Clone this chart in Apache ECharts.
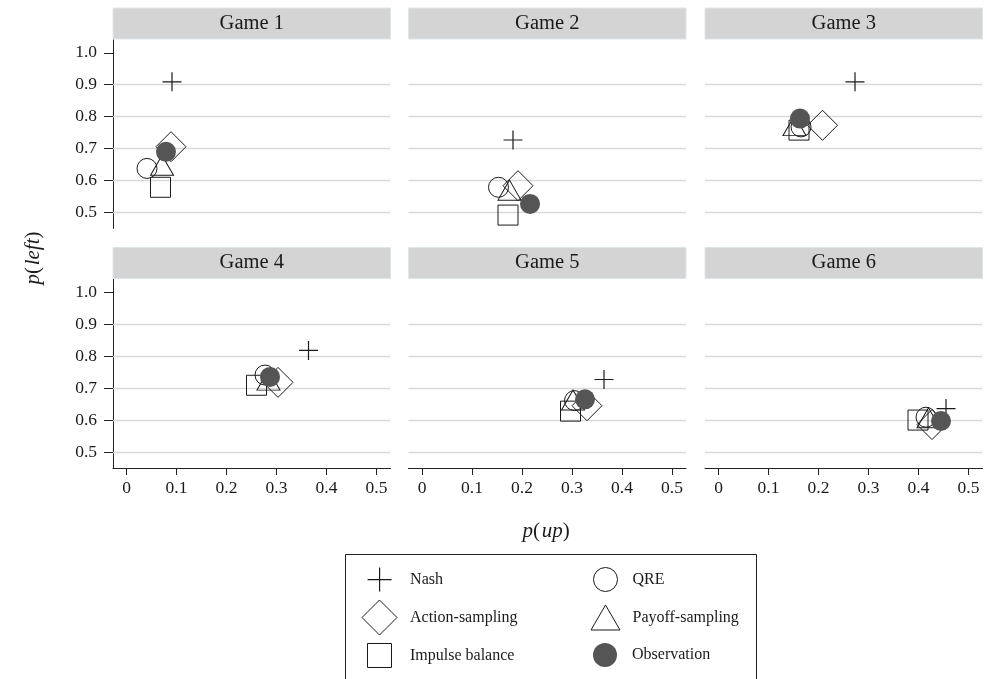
<!DOCTYPE html>
<html>
<head>
<meta charset="utf-8">
<script src="https://cdn.jsdelivr.net/npm/echarts@6/dist/echarts.min.js"></script>
<style>
  html, body { margin: 0; padding: 0; background: #fff; }
  #chart { width: 987px; height: 679px; }
</style>
</head>
<body>
<div id="chart"></div>
<script>
// Six games, each point is (p(up), p(left)) for one model or the observed play.
const games = ['Game 1', 'Game 2', 'Game 3', 'Game 4', 'Game 5', 'Game 6'];

const nashUp   = [0.091, 0.182, 0.273, 0.364, 0.364, 0.455];
const nashLeft = [0.909, 0.727, 0.909, 0.818, 0.727, 0.636];

const qreUp   = [0.041, 0.153, 0.165, 0.277, 0.305, 0.415];
const qreLeft = [0.638, 0.579, 0.768, 0.741, 0.661, 0.609];

const actionUp   = [0.089, 0.192, 0.208, 0.303, 0.330, 0.427];
const actionLeft = [0.706, 0.584, 0.773, 0.718, 0.645, 0.586];

const payoffUp   = [0.071, 0.175, 0.152, 0.284, 0.302, 0.420];
const payoffLeft = [0.648, 0.570, 0.772, 0.725, 0.663, 0.607];

const impulseUp   = [0.068, 0.172, 0.161, 0.260, 0.297, 0.399];
const impulseLeft = [0.579, 0.492, 0.758, 0.709, 0.628, 0.600];

const obsUp   = [0.079, 0.216, 0.163, 0.287, 0.326, 0.445];
const obsLeft = [0.690, 0.527, 0.794, 0.735, 0.665, 0.597];

// Tick values and horizontal reference lines
const xTicks = [0, 0.1, 0.2, 0.3, 0.4, 0.5];
const yTicks = [0.5, 0.6, 0.7, 0.8, 0.9, 1.0];
const gridLevels = [0.5, 0.6, 0.7, 0.8, 0.9];

const FONT = 'Liberation Serif';
const INK = '#1a1a1a';
const PLUS = 'path://M0,10L20,10M10,0L10,20';

const models = [
  { name: 'Nash', up: nashUp, left: nashLeft, symbol: PLUS, size: 19,
    legendIcon: 'path://M0,12L24,12M12,0L12,24', legendSize: [24, 24],
    fill: 'rgba(0,0,0,0)', stroke: INK, lw: 1.2, col: 0, row: 0 },
  { name: 'QRE', up: qreUp, left: qreLeft, symbol: 'circle', size: 20,
    legendIcon: 'circle', legendSize: [24, 24],
    fill: 'rgba(0,0,0,0)', stroke: INK, lw: 1, col: 1, row: 0 },
  { name: 'Action-sampling', up: actionUp, left: actionLeft, symbol: 'diamond', size: 30,
    legendIcon: 'diamond', legendSize: [35, 35],
    fill: 'rgba(0,0,0,0)', stroke: INK, lw: 1, col: 0, row: 1 },
  { name: 'Payoff-sampling', up: payoffUp, left: payoffLeft, symbol: 'triangle', size: [23, 20],
    legendIcon: 'triangle', legendSize: [29, 25],
    fill: 'rgba(0,0,0,0)', stroke: INK, lw: 1, col: 1, row: 1 },
  { name: 'Impulse balance', up: impulseUp, left: impulseLeft, symbol: 'rect', size: 20,
    legendIcon: 'rect', legendSize: [24, 24],
    fill: 'rgba(0,0,0,0)', stroke: INK, lw: 1, col: 0, row: 2 },
  { name: 'Observation', up: obsUp, left: obsLeft, symbol: 'circle', size: 20,
    legendIcon: 'circle', legendSize: [24, 24],
    fill: '#555555', stroke: '#555555', lw: 0, col: 1, row: 2 }
];

// Panel layout (pixels)
const colLeft = [113, 408.5, 705];
const panelW = 277.5;
const rowTop = [40, 279.5];
const panelH = 188.5;
const stripH = 31;

const grids = [], xAxes = [], yAxes = [], series = [], graphics = [];

games.forEach((g, i) => {
  const c = i % 3, r = Math.floor(i / 3);
  const isBottom = r === 1, isLeft = c === 0;
  grids.push({ left: colLeft[c], top: rowTop[r], width: panelW, height: panelH });

  xAxes.push({
    type: 'value', gridIndex: i, min: -0.027, max: 0.528,
    axisLine: { show: isBottom, onZero: false, lineStyle: { color: '#222', width: 1 } },
    axisTick: { show: isBottom, customValues: xTicks, length: 7, lineStyle: { color: '#222', width: 1 } },
    axisLabel: { show: isBottom, customValues: xTicks, margin: 11,
      fontFamily: FONT, fontSize: 17.5, color: INK,
      formatter: v => (v === 0 ? '0' : v.toFixed(1)) },
    splitLine: { show: false }
  });
  yAxes.push({
    type: 'value', gridIndex: i, min: 0.45, max: 1.04,
    axisLine: { show: isLeft, onZero: false, lineStyle: { color: '#222', width: 1 } },
    axisTick: { show: isLeft, customValues: yTicks, length: 9, lineStyle: { color: '#222', width: 1 } },
    axisLabel: { show: isLeft, customValues: yTicks, margin: 16,
      fontFamily: FONT, fontSize: 17.5, color: INK,
      formatter: v => v.toFixed(1) },
    splitLine: { show: false }
  });

  models.forEach((m, k) => {
    const s = {
      type: 'scatter', name: m.name, xAxisIndex: i, yAxisIndex: i,
      data: [[m.up[i], m.left[i]]],
      symbol: m.symbol, symbolSize: m.size,
      itemStyle: { color: m.fill, borderColor: m.stroke, borderWidth: m.lw, opacity: 1 },
      emphasis: { disabled: true },
      z: 3 + k
    };
    if (k === 0) {
      s.markLine = {
        silent: true, symbol: ['none', 'none'], z: 1, animation: false,
        label: { show: false },
        lineStyle: { type: 'solid', color: '#d9d9d9', width: 1.3 },
        data: gridLevels.map(v => ({ yAxis: v }))
      };
    }
    series.push(s);
  });

  // Panel header strip
  graphics.push({
    type: 'rect', silent: true, z: 0,
    shape: { x: colLeft[c], y: rowTop[r] - stripH - 1, width: panelW, height: stripH },
    style: { fill: '#d4d4d4', stroke: '#dfe6ea', lineWidth: 1 }
  });
  graphics.push({
    type: 'text', silent: true, z: 1,
    x: colLeft[c] + panelW / 2, y: rowTop[r] - stripH / 2 - 1,
    style: { text: g, fontFamily: FONT, fontSize: 20.5, fill: INK,
      align: 'center', verticalAlign: 'middle' }
  });
});

// Axis titles
graphics.push({
  type: 'text', silent: true,
  x: 546, y: 531,
  style: {
    text: '{i|p}(\u200a{i|up})', fontFamily: FONT, fontSize: 21, fill: INK,
    align: 'center', verticalAlign: 'middle',
    rich: { i: { fontFamily: FONT, fontSize: 21, fontStyle: 'italic', fill: INK } }
  }
});
graphics.push({
  type: 'text', silent: true,
  x: 33, y: 258, rotation: Math.PI / 2,
  style: {
    text: '{i|p}(\u200a{i|left})', fontFamily: FONT, fontSize: 21, fill: INK,
    align: 'center', verticalAlign: 'middle',
    rich: { i: { fontFamily: FONT, fontSize: 21, fontStyle: 'italic', fill: INK } }
  }
});

// Legend frame
graphics.push({
  type: 'rect', silent: true,
  shape: { x: 345.5, y: 554.5, width: 411, height: 150 },
  style: { fill: '#fff', stroke: '#222', lineWidth: 1 },
  z: -1
});

// Legend: one entry per component so each icon sits at its own centre
const legendColCenter = [379, 605];
const legendColText = [409.5, 632];
const legendRowY = [579, 617, 655];
const legends = models.map(m => {
  const [w, h] = m.legendSize;
  const left = legendColCenter[m.col] - w / 2;
  const pad = legendColText[m.col] - (left + w + 5);
  return {
    left: left, top: legendRowY[m.row] - h / 2, padding: 0,
    itemWidth: w, itemHeight: h, selectedMode: false, orient: 'vertical',
    textStyle: { fontFamily: FONT, fontSize: 16, color: INK },
    data: [{
      name: m.name, icon: m.legendIcon,
      itemStyle: { color: m.fill, borderColor: m.stroke, borderWidth: m.lw === 0 ? 0 : (m.name === 'Nash' ? 1.2 : 1) },
      textStyle: { fontFamily: FONT, fontSize: 16, color: INK, padding: [0, 0, 0, pad] }
    }]
  };
});

const chart = echarts.init(document.getElementById('chart'), null, { renderer: 'canvas' });
chart.setOption({
  backgroundColor: '#ffffff',
  animation: false,
  grid: grids,
  xAxis: xAxes,
  yAxis: yAxes,
  legend: legends,
  graphic: { elements: graphics },
  series: series
});
</script>
</body>
</html>
